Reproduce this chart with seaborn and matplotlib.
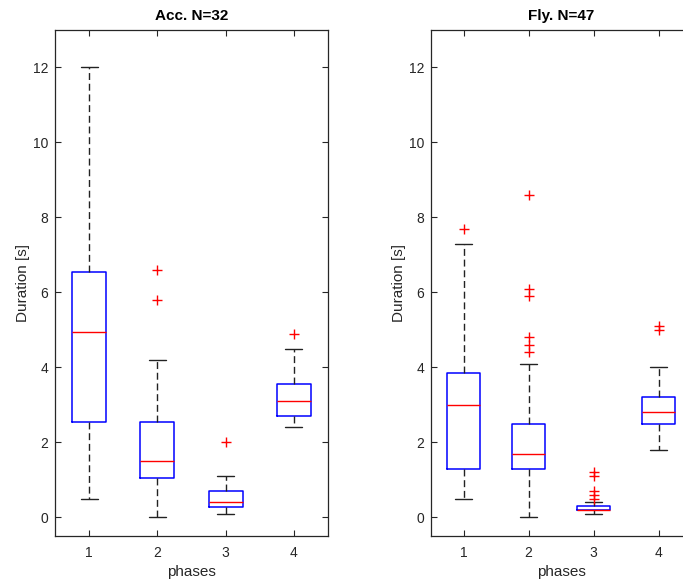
import numpy as np
import pandas as pd
import matplotlib
matplotlib.use("Agg")
import matplotlib.pyplot as plt
import seaborn as sns

# ---- data (durations in seconds, per phase) ----
phases = ["1", "2", "3", "4"]

acc_phase1 = [0.5, 0.9, 1.2, 1.5, 1.8, 2.0, 2.2, 2.4,
              2.6, 2.9, 3.2, 3.6, 3.9, 4.2, 4.6, 4.9,
              5.0, 5.2, 5.4, 5.6, 5.8, 6.0, 6.3, 6.5,
              6.7, 7.1, 7.6, 8.2, 8.9, 9.7, 10.8, 12.0]
acc_phase2 = [0.0, 0.2, 0.4, 0.5, 0.6, 0.7, 0.8, 0.9,
              1.1, 1.1, 1.2, 1.2, 1.3, 1.3, 1.4, 1.4,
              1.6, 1.7, 1.8, 1.9, 2.0, 2.1, 2.3, 2.5,
              2.7, 2.9, 3.1, 3.4, 3.8, 4.2, 5.8, 6.6]
acc_phase3 = [0.1, 0.1, 0.1, 0.2, 0.2, 0.2, 0.2, 0.2,
              0.3, 0.3, 0.3, 0.3, 0.3, 0.4, 0.4, 0.4,
              0.4, 0.5, 0.5, 0.5, 0.6, 0.6, 0.6, 0.7,
              0.7, 0.8, 0.8, 0.9, 0.9, 1.0, 1.1, 2.0]
acc_phase4 = [2.4, 2.5, 2.5, 2.6, 2.6, 2.6, 2.7, 2.7,
              2.7, 2.8, 2.8, 2.9, 2.9, 3.0, 3.0, 3.1,
              3.1, 3.2, 3.2, 3.3, 3.3, 3.4, 3.4, 3.5,
              3.7, 3.8, 3.9, 4.0, 4.1, 4.3, 4.5, 4.9]

fly_phase1 = [0.5, 0.6, 0.7, 0.8, 0.9, 0.9, 1.0, 1.1, 1.1, 1.2, 1.2, 1.3,
              1.3, 1.5, 1.7, 1.9, 2.1, 2.3, 2.4, 2.6, 2.7, 2.8, 2.9,
              3.0,
              3.1, 3.2, 3.3, 3.4, 3.4, 3.5, 3.6, 3.6, 3.7, 3.7, 3.8,
              3.9, 4.1, 4.3, 4.6, 4.9, 5.2, 5.6, 5.9, 6.3, 6.8, 7.3, 7.7]
fly_phase2 = [0.0, 0.3, 0.5, 0.7, 0.8, 0.9, 1.0, 1.1, 1.1, 1.2, 1.2, 1.3,
              1.3, 1.4, 1.4, 1.5, 1.5, 1.5, 1.6, 1.6, 1.6, 1.7, 1.7,
              1.7,
              1.8, 1.8, 1.9, 1.9, 2.0, 2.0, 2.1, 2.2, 2.3, 2.3, 2.4,
              2.55, 2.7, 3.0, 3.3, 3.7, 4.1, 4.4, 4.6, 4.8, 5.9, 6.1, 8.6]
fly_phase3 = [0.1, 0.1, 0.1, 0.1, 0.2, 0.2, 0.2, 0.2, 0.2, 0.2, 0.2, 0.2,
              0.2, 0.2, 0.2, 0.2, 0.2, 0.2, 0.2, 0.2, 0.2, 0.2, 0.2,
              0.2,
              0.2, 0.2, 0.2, 0.3, 0.3, 0.3, 0.3, 0.3, 0.3, 0.3, 0.3,
              0.3, 0.3, 0.3, 0.3, 0.4, 0.4, 0.4, 0.5, 0.6, 0.7, 1.1, 1.2]
fly_phase4 = [1.8, 2.0, 2.1, 2.2, 2.3, 2.3, 2.4, 2.4, 2.4, 2.5, 2.5, 2.5,
              2.5, 2.6, 2.6, 2.6, 2.7, 2.7, 2.7, 2.7, 2.8, 2.8, 2.8,
              2.8,
              2.9, 2.9, 2.9, 3.0, 3.0, 3.0, 3.1, 3.1, 3.1, 3.2, 3.2,
              3.2, 3.3, 3.3, 3.4, 3.5, 3.6, 3.7, 3.8, 3.9, 4.0, 5.0, 5.1]

titles = ["Acc. N=32", "Fly. N=47"]
yticks = [0, 2, 4, 6, 8, 10, 12]


def long_form(groups):
    rows = []
    for ph, vals in zip(phases, groups):
        for v in vals:
            rows.append({"phase": ph, "dur": v})
    return pd.DataFrame(rows)


df_acc = long_form([acc_phase1, acc_phase2, acc_phase3, acc_phase4])
df_fly = long_form([fly_phase1, fly_phase2, fly_phase3, fly_phase4])

# ---- style ----
sns.set_theme(style="ticks")
plt.rcParams["font.family"] = ["Liberation Sans", "DejaVu Sans"]
AX = "#262626"
plt.rcParams.update({
    "axes.edgecolor": AX,
    "axes.linewidth": 0.9,
    "xtick.color": AX,
    "ytick.color": AX,
    "axes.labelcolor": AX,
})

W, H = 683, 586
fig = plt.figure(figsize=(W / 100, H / 100), dpi=100)
ax1 = fig.add_axes([55 / W, (H - 536) / H, 273 / W, 506 / H])
ax2 = fig.add_axes([431 / W, (H - 536) / H, 260 / W, 506 / H])

for ax, df, title in zip([ax1, ax2], [df_acc, df_fly], titles):
    sns.boxplot(
        data=df, x="phase", y="dur", order=phases, ax=ax,
        width=0.5, fill=False, color="blue", linecolor="blue",
        linewidth=1.1, whis=1.5,
        boxprops=dict(color="#0000FF", linewidth=1.1),
        medianprops=dict(color="#FF0000", linewidth=1.0),
        whiskerprops=dict(color="#222222", linestyle=(0, (5, 2.7)), linewidth=1.0),
        capprops=dict(color="#222222", linewidth=1.0),
        flierprops=dict(marker="+", markeredgecolor="#FF0000",
                        markerfacecolor="#FF0000", markersize=7,
                        markeredgewidth=1.0),
    )
    ax.set_xlim(-0.5, 3.5)
    ax.set_ylim(-0.5, 13)
    ax.set_yticks(yticks)
    ax.set_yticklabels([str(t) for t in yticks])
    ax.tick_params(axis="both", direction="in", length=4.5, width=0.8,
                   labelsize=10, top=True, right=True, pad=5)
    ax.tick_params(axis="x", pad=7)
    for s in ax.spines.values():
        s.set_visible(True)
        s.set_color(AX)
        s.set_linewidth(0.9)
    ax.set_xlabel("phases", fontsize=11, color=AX, labelpad=4)
    ax.set_ylabel("Duration [s]", fontsize=11, color=AX, labelpad=2)
    ax.set_title(title, fontsize=11, fontweight="bold", color="black", pad=7)

fig.savefig("out.png", dpi=100)
